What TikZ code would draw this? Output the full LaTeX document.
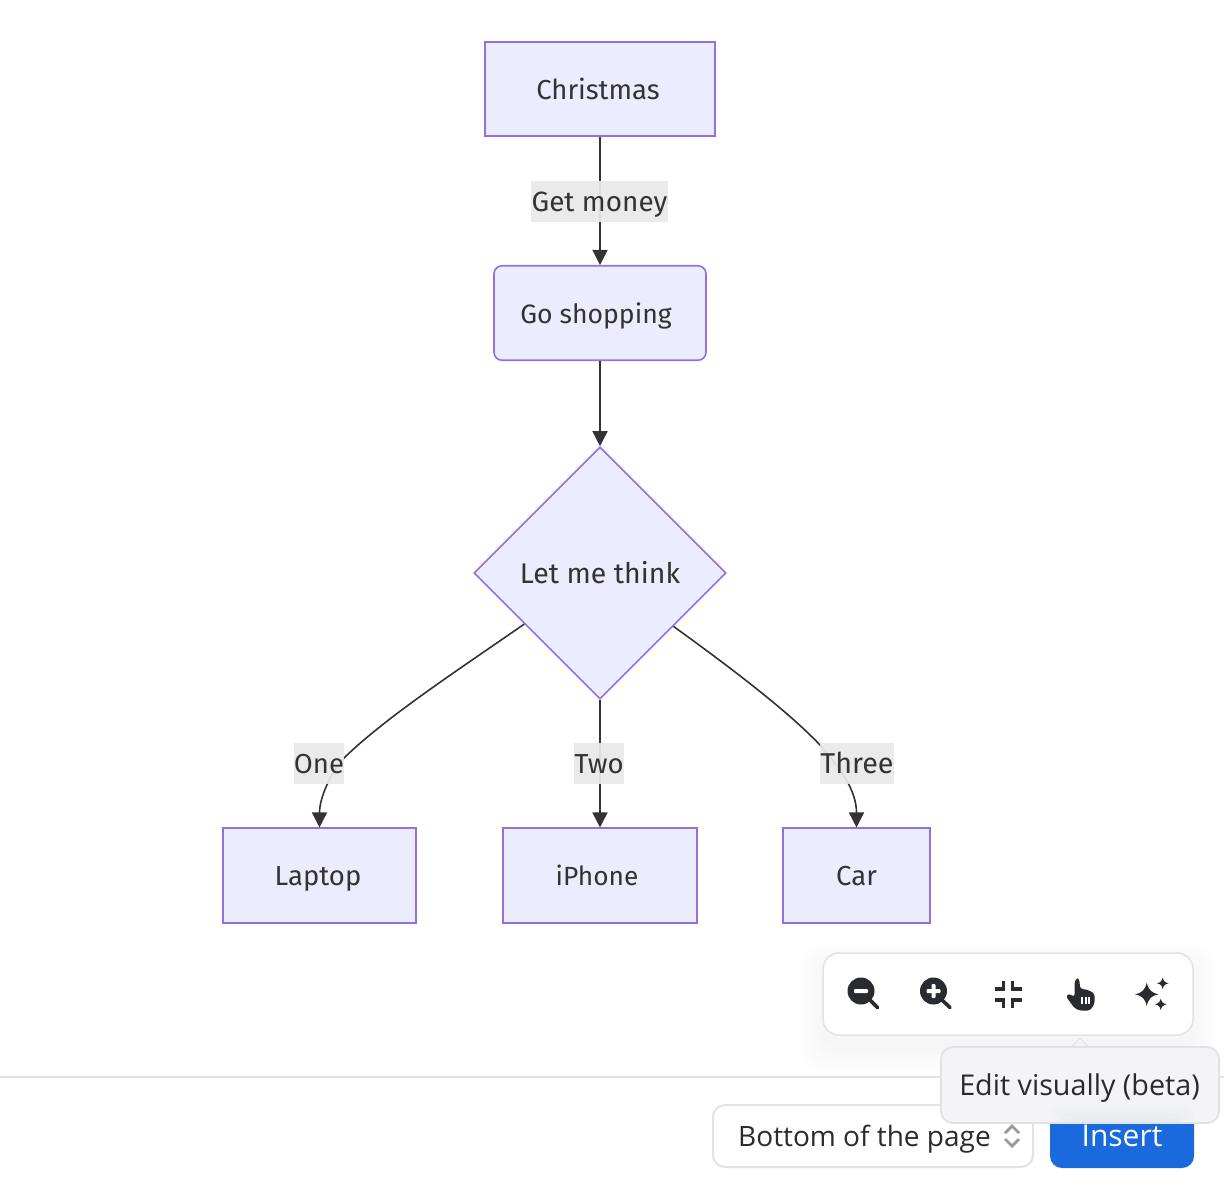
\documentclass[tikz,border=0pt]{standalone}
\usepackage{fontspec}
\setmainfont{Fira Sans}
\newfontfamily\uifont{Open Sans}
\usetikzlibrary{shapes.geometric,arrows.meta}
\definecolor{nodefill}{HTML}{ECECFF}
\definecolor{nodeline}{HTML}{9370DB}
\definecolor{edgeink}{HTML}{333333}
\definecolor{labelbg}{HTML}{E8E8E8}
\definecolor{uiink}{HTML}{2A2B30}
\definecolor{uiline}{HTML}{E2E2E4}
\definecolor{uiblue}{HTML}{1A6ADE}
\definecolor{tipfill}{HTML}{F4F4F6}
\tikzset{
  x=1pt,y=-1pt,
  fs/.style={font=\fontsize{#1}{32}\selectfont},
  uifs/.style={font=\uifont\fontsize{#1}{32}\selectfont},
  flow/.style={draw=nodeline,fill=nodefill,line width=1.6pt,inner sep=0pt,text=edgeink,text height=23pt,text depth=3pt,fs=27.5},
  rectbox/.style={flow,rectangle,minimum height=94.5pt},
  roundbox/.style={rectbox,rounded corners=8pt},
  decision/.style={flow,diamond,minimum width=252pt,minimum height=252pt},
  link/.style={draw=edgeink,line width=1.6pt,-{Triangle[length=15pt,width=15pt]}},
  linklabel/.style={fill=labelbg,fill opacity=.93,text opacity=1,text=edgeink,inner sep=0pt,minimum height=41pt,text height=23pt,text depth=3pt,fs=27.5},
  uitext/.style={inner sep=0pt,text=uiink,text height=24pt,text depth=3pt,uifs=28},
  iconline/.style={draw=uiink,line width=3.6pt}
}
\begin{document}
\begin{tikzpicture}
\useasboundingbox (0,0) rectangle (1224,1184);
% flowchart nodes
\node[rectbox,minimum width=230pt] (christmas) at (600,89) {\hspace*{-4pt}Christmas};
\node[roundbox,minimum width=212pt,fs=26.6] (shopping) at (600,313) {\hspace*{-8pt}Go shopping};
\node[decision,fs=28.4] (think) at (600,573) {Let me think};
\node[rectbox,minimum width=193pt] (laptop) at (319.5,875.5) {\hspace*{-3pt}Laptop};
\node[rectbox,minimum width=194pt,fs=26.3] (iphone) at (600,875.5) {\hspace*{-6pt}iPhone};
\node[rectbox,minimum width=147pt] (car) at (856.5,875.5) {Car};
% connectors
\draw[link] (christmas.south) -- (shopping.north);
\draw[link] (shopping.south) -- (think.north);
\draw[link] (think.south) -- (iphone.north);
\draw[link] (think.214) .. controls (455,672) and (385,718) .. (344,758)
  .. controls (330,774) and (319.5,798) .. (laptop.north);
\draw[link] (think.-36.5) .. controls (720,660) and (785,708) .. (820,745)
  .. controls (840,768) and (856.5,790) .. (car.north);
% connector labels
\node[linklabel,minimum width=137pt,fs=27.9] (lmoney) at (599.5,201.5) {Get money};
\node[linklabel,minimum width=50pt] (lone) at (319,763.5) {One};
\node[linklabel,minimum width=49pt] (ltwo) at (599,763.5) {Two};
\node[linklabel,minimum width=72pt,fs=28.7] (lthree) at (857,763.5) {Three};
% footer
\draw[uiline,line width=1.5pt] (0,1077) -- (1224,1077);
\node[draw=uiline,fill=white,line width=2pt,rounded corners=12pt,minimum width=320pt,minimum height=62pt,inner sep=0pt] (select) at (873,1136) {};
\node[uitext,anchor=west] (selecttext) at (738,1136) {Bottom of the page};
\draw[black!40,line width=2.8pt] (1005,1133) -- (1012,1126) -- (1019,1133);
\draw[black!40,line width=2.8pt] (1005,1139) -- (1012,1146) -- (1019,1139);
\fill[uiblue,rounded corners=12pt] (1050,1100) rectangle (1194,1168);
\node[uitext,text=white,uifs=30] (insert) at (1122,1136) {Insert};
% toolbar shadow
\foreach \g in {24,21,18,15,12,9,6,3,0}{
  \fill[black,opacity=.0055,rounded corners=20pt] (823-\g,953-\g+14) rectangle (1193+\g,1035+\g+14);
}
\node[draw=uiline,fill=white,line width=1.5pt,rounded corners=16pt,minimum width=370pt,minimum height=82pt,inner sep=0pt] (toolbar) at (1008,994) {};
% zoom out
\draw[iconline,line cap=round] (870,1000) -- (877.5,1007.5);
\fill[uiink] (861,991) circle (13.5);
\fill[white,rounded corners=1pt] (854,989) rectangle (868,993);
% zoom in
\draw[iconline,line cap=round] (942,1000) -- (950,1007.5);
\fill[uiink] (933.5,991) circle (13.5);
\fill[white,rounded corners=1pt] (926.5,989) rectangle (940.5,993);
\fill[white,rounded corners=1pt] (931.5,984) rectangle (935.5,998);
% fit to screen
\draw[iconline] (994.5,989) -- (1003.5,989) -- (1003.5,981);
\draw[iconline] (1021.5,989) -- (1012.5,989) -- (1012.5,981);
\draw[iconline] (994.5,1000) -- (1003.5,1000) -- (1003.5,1007.5);
\draw[iconline] (1021.5,1000) -- (1012.5,1000) -- (1012.5,1007.5);
% hand
\fill[uiink,rounded corners=2.5pt] (1074.5,982) -- (1074.5,997) -- (1069,993.5) -- (1066,996.5)
  -- (1074,1007.5) -- (1079,1010.5) -- (1090,1010.5) -- (1094.5,1004) -- (1094.5,993.5)
  -- (1088,990) -- (1080,988.5) -- (1079.5,980) -- (1077,977.5) -- cycle;
\fill[white] (1081,997) rectangle (1083,1004);
\fill[white] (1084.5,997) rectangle (1086.5,1004);
\fill[white] (1088,997) rectangle (1090,1004);
% sparkle
\fill[uiink] (1146.7,982.5) .. controls (1148.5,990) and (1151,992.5) .. (1158.5,994.3)
  .. controls (1151,996) and (1148.5,998.5) .. (1146.7,1006)
  .. controls (1145,998.5) and (1142.5,996) .. (1135,994.3)
  .. controls (1142.5,992.5) and (1145,990) .. (1146.7,982.5) -- cycle;
\fill[uiink] (1162.7,977.5) .. controls (1163.5,981) and (1165,982.5) .. (1168.5,983.3)
  .. controls (1165,984) and (1163.5,985.5) .. (1162.7,989)
  .. controls (1162,985.5) and (1160.5,984) .. (1157,983.3)
  .. controls (1160.5,982.5) and (1162,981) .. (1162.7,977.5) -- cycle;
\fill[uiink] (1160.7,998.5) .. controls (1161.5,1002) and (1163,1003.5) .. (1166.5,1004.3)
  .. controls (1163,1005) and (1161.5,1006.5) .. (1160.7,1010)
  .. controls (1160,1006.5) and (1158.5,1005) .. (1155,1004.3)
  .. controls (1158.5,1003.5) and (1160,1002) .. (1160.7,998.5) -- cycle;
% tooltip
\fill[tipfill,draw=uiline,line width=1.2pt] (1071,1047.5) -- (1080,1038) -- (1089,1047.5) -- cycle;
\node[draw=uiline,fill=tipfill,line width=1.8pt,rounded corners=12pt,minimum width=278pt,minimum height=76pt,inner sep=0pt] (tooltip) at (1080,1085) {};
\foreach \g in {0,5,10,15}{
  \fill[uiblue,opacity=.012,rounded corners=8pt] (1050+\g,1104+\g*.9) rectangle (1194-\g,1122);
}
\node[uitext,uifs=28.7] (tooltiptext) at (1079.5,1085) {Edit visually (beta)};
\end{tikzpicture}
\end{document}
